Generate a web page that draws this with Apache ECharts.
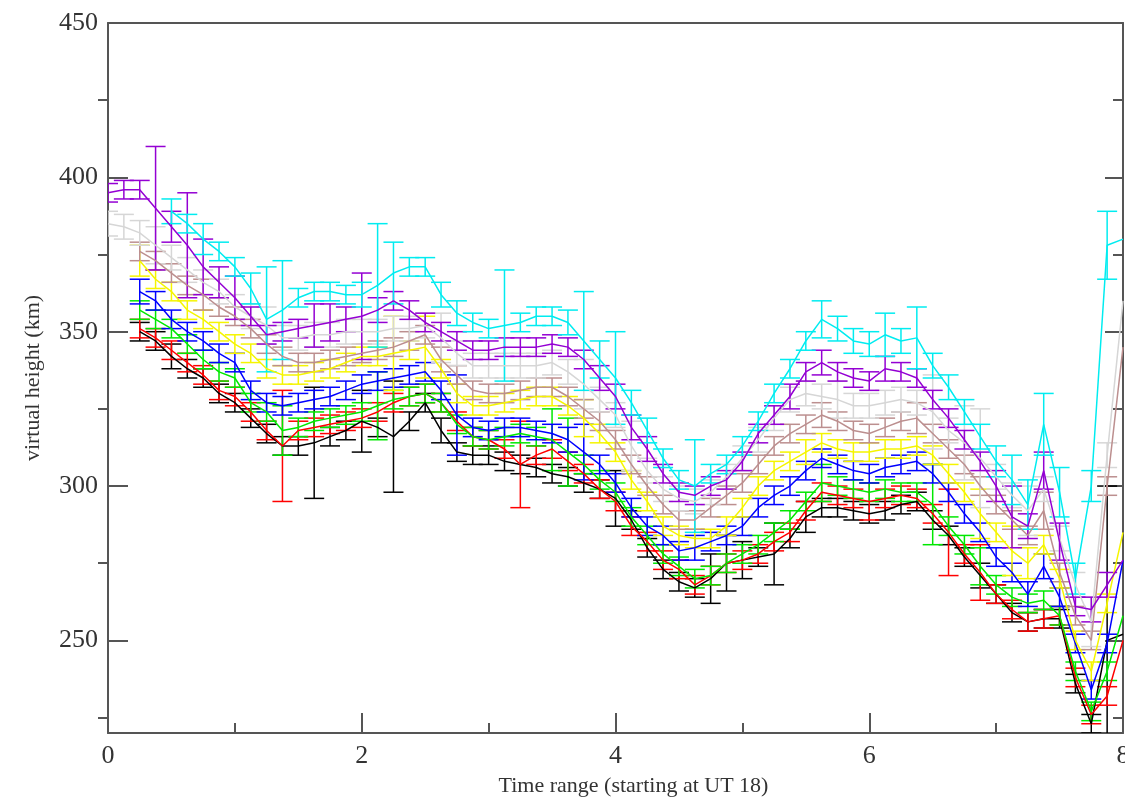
<!DOCTYPE html>
<html>
<head>
<meta charset="utf-8">
<title>virtual height</title>
<script src="https://cdn.jsdelivr.net/npm/echarts@6/dist/echarts.min.js"></script>
<style>
  html, body { margin: 0; padding: 0; background: #fff; }
  #chart { width: 1125px; height: 799px; }
</style>
</head>
<body>
<div id="chart"></div>
<script>
// time axis (hours from UT 18), one point every 7.5 min
const times = [0, 0.125, 0.25, 0.375, 0.5, 0.625, 0.75, 0.875, 1, 1.125, 1.25, 1.375, 1.5, 1.625, 1.75, 1.875,
  2, 2.125, 2.25, 2.375, 2.5, 2.625, 2.75, 2.875, 3, 3.125, 3.25, 3.375, 3.5, 3.625, 3.75, 3.875,
  4, 4.125, 4.25, 4.375, 4.5, 4.625, 4.75, 4.875, 5, 5.125, 5.25, 5.375, 5.5, 5.625, 5.75, 5.875,
  6, 6.125, 6.25, 6.375, 6.5, 6.625, 6.75, 6.875, 7, 7.125, 7.25, 7.375, 7.5, 7.625, 7.75, 7.875, 8];

const yTicks = [250, 300, 350, 400, 450];
const yMinorTicks = [225, 275, 325, 375, 425];

const black = [null, null, 350, 347, 342, 338, 335, 330, 327, 322, 317, 313, 313, 314, 316, 318,
  321, 319, 316, 321, 327, 318, 311, 310, 310, 308, 307, 306, 304, 303, 301, 299,
  296, 289, 280, 273, 269, 267, 270, 275, 276, 277, 278, 283, 290, 293, 293, 292,
  291, 292, 294, 295, 289, 284, 277, 271, 265, 259, 256, 257, 257, 236, 223, 250, 252];
const blackErr = [0, 0, 3, 3, 4, 3, 3, 3, 3, 3, 3, 3, 3, 18, 3, 3,
  10, 3, 18, 3, 3, 4, 3, 3, 3, 3, 3, 3, 3, 3, 3, 3,
  9, 3, 3, 3, 3, 3, 8, 9, 6, 3, 10, 3, 5, 3, 3, 3,
  3, 3, 3, 3, 3, 3, 3, 4, 3, 3, 3, 3, 3, 3, 3, 50, 0];

const red = [null, null, 351, 348, 344, 340, 336, 331, 329, 324, 318, 313, 318, 319, 320, 321,
  322, 324, 327, 329, 330, 327, 321, 316, 315, 312, 307, 310, 312, 308, 304, 299,
  295, 287, 282, 276, 273, 268, 271, 275, 276, 278, 282, 285, 292, 298, 297, 296,
  295, 296, 297, 296, 291, 285, 278, 272, 265, 260, 256, 257, 258, 238, 226, 232, 250];
const redErr = [0, 0, 3, 3, 3, 3, 3, 3, 3, 3, 3, 18, 3, 3, 3, 3,
  3, 3, 3, 3, 3, 3, 3, 3, 3, 3, 14, 3, 3, 3, 3, 3,
  3, 3, 3, 3, 3, 3, 3, 3, 3, 3, 3, 3, 3, 3, 3, 3,
  6, 3, 3, 3, 3, 14, 3, 9, 3, 3, 3, 3, 3, 3, 3, 3, 0];

const green = [null, null, 357, 354, 351, 346, 341, 337, 335, 327, 324, 318, 319, 321, 322, 323,
  324, 326, 328, 329, 330, 327, 320, 316, 315, 316, 317, 316, 315, 311, 307, 302,
  298, 290, 284, 278, 274, 270, 271, 275, 278, 281, 285, 289, 295, 301, 300, 299,
  298, 299, 298, 298, 294, 287, 281, 274, 268, 264, 262, 263, 258, 240, 227, 240, 258];
const greenErr = [0, 0, 3, 3, 3, 3, 3, 3, 3, 3, 3, 8, 3, 3, 3, 3,
  3, 11, 3, 3, 3, 3, 3, 3, 3, 3, 3, 3, 10, 11, 3, 3,
  3, 3, 3, 3, 3, 3, 3, 3, 3, 3, 3, 3, 3, 6, 3, 3,
  3, 3, 3, 3, 13, 3, 3, 6, 3, 3, 3, 3, 3, 3, 3, 3, 0];

const blue = [null, null, 363, 360, 354, 350, 347, 343, 340, 331, 327, 326, 327, 328, 329, 331,
  333, 334, 335, 336, 337, 331, 323, 319, 318, 319, 319, 318, 317, 315, 311, 307,
  301, 293, 287, 284, 279, 280, 282, 284, 287, 293, 297, 300, 305, 309, 307, 305,
  304, 306, 307, 308, 304, 298, 291, 285, 277, 272, 265, 274, 264, 249, 234, 249, 276];
const blueErr = [0, 0, 4, 3, 3, 3, 3, 3, 3, 3, 3, 3, 3, 3, 3, 3,
  3, 3, 3, 3, 3, 3, 13, 3, 3, 3, 3, 3, 3, 4, 9, 3,
  3, 3, 3, 3, 3, 4, 3, 3, 3, 3, 3, 3, 3, 3, 3, 3,
  3, 3, 3, 3, 3, 3, 3, 3, 3, 3, 4, 4, 3, 3, 3, 3, 0];

const yellow = [null, null, 373, 367, 363, 357, 354, 350, 346, 343, 338, 336, 336, 337, 338, 340,
  342, 342, 343, 344, 345, 338, 330, 326, 326, 327, 328, 329, 329, 326, 322, 317,
  311, 302, 295, 287, 284, 283, 283, 287, 293, 300, 305, 308, 311, 314, 312, 311,
  311, 312, 312, 313, 310, 304, 298, 291, 285, 279, 275, 281, 270, 250, 240, 262, 285];
const yellowErr = [0, 0, 5, 3, 3, 3, 3, 3, 3, 3, 3, 3, 3, 3, 3, 3,
  3, 3, 12, 3, 10, 3, 3, 3, 3, 3, 3, 3, 3, 3, 6, 3,
  3, 3, 3, 3, 3, 3, 3, 3, 3, 3, 3, 3, 4, 3, 3, 3,
  3, 3, 3, 3, 3, 3, 3, 8, 3, 8, 5, 3, 3, 3, 3, 3, 0];

const brown = [null, null, 376, 373, 369, 365, 362, 358, 355, 351, 346, 342, 340, 340, 341, 342,
  343, 344, 345, 347, 349, 341, 336, 331, 330, 330, 331, 332, 332, 329, 325, 321,
  315, 307, 300, 294, 289, 289, 293, 297, 301, 307, 313, 317, 320, 323, 321, 318,
  317, 319, 321, 322, 317, 312, 307, 300, 294, 289, 284, 292, 272, 258, 250, 300, 345];
const brownErr = [0, 0, 3, 3, 3, 3, 5, 3, 3, 3, 3, 3, 3, 3, 3, 3,
  3, 3, 3, 3, 3, 4, 3, 3, 3, 3, 3, 3, 3, 3, 3, 3,
  3, 3, 3, 3, 3, 3, 3, 3, 3, 3, 3, 3, 3, 4, 3, 3,
  3, 3, 3, 5, 3, 3, 3, 3, 3, 3, 3, 6, 3, 3, 3, 3, 0];

const grey = [385, 384, 382, 378, 374, 370, 366, 363, 358, 355, 352, 348, 348, 349, 349, 350,
  350, 350, 351, 351, 352, 348, 343, 339, 339, 339, 339, 339, 340, 337, 333, 328,
  323, 313, 305, 299, 296, 295, 298, 303, 309, 315, 322, 328, 330, 329, 328, 326,
  326, 327, 328, 327, 324, 318, 314, 309, 303, 297, 292, 299, 283, 268, 256, 310, 360];
const greyErr = [4, 4, 4, 6, 4, 4, 4, 4, 4, 4, 6, 4, 4, 4, 4, 4,
  4, 4, 4, 4, 4, 8, 4, 4, 4, 4, 4, 4, 4, 4, 8, 4,
  4, 8, 4, 4, 4, 4, 4, 4, 4, 4, 4, 4, 4, 4, 6, 4,
  4, 4, 4, 4, 12, 4, 12, 16, 4, 4, 8, 4, 4, 4, 8, 4, 0];

const violet = [395, 396, 396, 390, 384, 378, 371, 366, 361, 355, 349, 350, 351, 352, 353, 354,
  355, 357, 360, 357, 353, 350, 347, 344, 344, 345, 345, 345, 346, 345, 341, 335,
  329, 319, 312, 304, 298, 297, 300, 302, 308, 317, 323, 329, 337, 340, 337, 335,
  334, 338, 337, 335, 328, 322, 315, 308, 300, 290, 287, 305, 282, 261, 260, 268, 276];
const violetErr = [3, 3, 3, 20, 5, 17, 9, 5, 7, 3, 3, 3, 3, 7, 6, 4,
  14, 4, 3, 3, 3, 3, 3, 3, 3, 3, 3, 3, 3, 3, 3, 4,
  4, 4, 4, 3, 3, 3, 3, 3, 3, 3, 3, 4, 3, 4, 3, 3,
  3, 4, 3, 3, 3, 3, 3, 3, 5, 10, 4, 6, 6, 3, 4, 4, 0];

const cyan = [null, null, null, null, 389, 385, 380, 376, 371, 364, 354, 357, 361, 363, 363, 362,
  362, 365, 369, 371, 371, 362, 356, 353, 351, 352, 353, 355, 355, 353, 347, 341,
  335, 327, 318, 309, 302, 300, 304, 307, 313, 321, 330, 338, 347, 354, 351, 347,
  346, 349, 347, 348, 339, 332, 324, 316, 308, 302, 294, 320, 298, 270, 300, 378, 380];
const cyanErr = [0, 0, 0, 0, 4, 3, 5, 3, 3, 5, 17, 16, 3, 3, 3, 3,
  4, 20, 10, 3, 3, 4, 4, 3, 3, 18, 3, 3, 3, 4, 16, 6,
  15, 4, 4, 3, 3, 15, 3, 3, 3, 3, 3, 3, 3, 6, 4, 4,
  4, 7, 4, 10, 4, 4, 4, 4, 5, 8, 8, 10, 8, 5, 5, 11, 0];

(function() {
  const chart = echarts.init(document.getElementById('chart'));
  const serif = 'Liberation Serif';
  const axisColor = '#555';

  const sets = [
    { name: 'black', color: '#000000', values: black, errs: blackErr },
    { name: 'red', color: '#ff0000', values: red, errs: redErr },
    { name: 'green', color: '#00e800', values: green, errs: greenErr },
    { name: 'blue', color: '#0000ff', values: blue, errs: blueErr },
    { name: 'yellow', color: '#f5f500', values: yellow, errs: yellowErr },
    { name: 'brown', color: '#bc8f8f', values: brown, errs: brownErr },
    { name: 'grey', color: '#d6d6d6', values: grey, errs: greyErr },
    { name: 'violet', color: '#9400d3', values: violet, errs: violetErr },
    { name: 'cyan', color: '#00ecf0', values: cyan, errs: cyanErr }
  ];

  function errorBars(color) {
    return function(params, api) {
      const x = api.value(0);
      const y = api.value(1);
      const e = api.value(2);
      const top = api.coord([x, y + e]);
      const bot = api.coord([x, y - e]);
      const w = 10;
      const style = { stroke: color, lineWidth: 1.5 };
      return {
        type: 'group',
        children: [
          { type: 'line', shape: { x1: top[0], y1: top[1], x2: bot[0], y2: bot[1] }, style: style },
          { type: 'line', shape: { x1: top[0] - w, y1: top[1], x2: top[0] + w, y2: top[1] }, style: style },
          { type: 'line', shape: { x1: bot[0] - w, y1: bot[1], x2: bot[0] + w, y2: bot[1] }, style: style }
        ]
      };
    };
  }

  const series = [];
  sets.forEach(function(s) {
    const bars = [];
    times.forEach(function(t, i) {
      if (s.values[i] !== null && s.errs[i] > 0) {
        bars.push([t, s.values[i], s.errs[i]]);
      }
    });
    series.push({
      name: s.name + ' err',
      type: 'custom',
      renderItem: errorBars(s.color),
      data: bars,
      encode: { x: 0, y: 1 },
      clip: true,
      silent: true
    });
    series.push({
      name: s.name,
      type: 'line',
      data: times.map(function(t, i) { return [t, s.values[i]]; }),
      showSymbol: false,
      lineStyle: { color: s.color, width: 1.5 },
      itemStyle: { color: s.color },
      clip: true,
      silent: true
    });
  });

  const tickLine = { color: axisColor, width: 2 };

  const option = {
    backgroundColor: '#fff',
    animation: false,
    grid: { left: 108, right: 2, top: 23, bottom: 66, outerBoundsMode: 'none', containLabel: false },
    xAxis: [
      {
        type: 'value',
        min: 0,
        max: 8,
        interval: 2,
        axisLine: { lineStyle: { color: axisColor, width: 2 } },
        axisTick: { inside: true, length: 20, lineStyle: tickLine },
        minorTick: { show: true, splitNumber: 2, length: 10, lineStyle: tickLine },
        splitLine: { show: false },
        axisLabel: { fontFamily: serif, fontSize: 26, color: '#333', margin: 10 },
        name: 'Time range (starting at UT 18)',
        nameLocation: 'middle',
        nameGap: 42,
        nameTextStyle: { fontFamily: serif, fontSize: 22, color: '#333', padding: [0, 0, 0, 36] }
      },
      {
        type: 'value',
        position: 'top',
        min: 0,
        max: 8,
        axisLine: { show: true, onZero: false, lineStyle: { color: axisColor, width: 2 } },
        axisTick: { show: false },
        axisLabel: { show: false },
        splitLine: { show: false }
      }
    ],
    yAxis: [
      {
        type: 'value',
        min: 220,
        max: 450,
        axisLine: { show: true, lineStyle: { color: axisColor, width: 2 } },
        axisTick: { show: true, inside: true, length: 20, lineStyle: tickLine, customValues: yTicks },
        axisLabel: { fontFamily: serif, fontSize: 26, color: '#333', margin: 10, customValues: yTicks },
        splitLine: { show: false },
        name: 'virtual height (km)',
        nameLocation: 'middle',
        nameGap: 64,
        nameTextStyle: { fontFamily: serif, fontSize: 22, color: '#333' }
      },
      {
        type: 'value',
        min: 220,
        max: 450,
        axisLine: { show: false },
        axisTick: { show: true, inside: true, length: 10, lineStyle: tickLine, customValues: yMinorTicks },
        axisLabel: { show: false },
        splitLine: { show: false }
      },
      {
        type: 'value',
        position: 'right',
        min: 220,
        max: 450,
        axisLine: { show: true, lineStyle: { color: axisColor, width: 2 } },
        axisTick: { show: true, inside: true, length: 18, lineStyle: tickLine, customValues: yTicks },
        axisLabel: { show: false },
        splitLine: { show: false }
      },
      {
        type: 'value',
        position: 'right',
        min: 220,
        max: 450,
        axisLine: { show: false },
        axisTick: { show: true, inside: true, length: 10, lineStyle: tickLine, customValues: yMinorTicks },
        axisLabel: { show: false },
        splitLine: { show: false }
      }
    ],
    series: series
  };
  chart.setOption(option);

  window.onresize = function() {
    chart.resize();
  };
}());
</script>
</body>
</html>
